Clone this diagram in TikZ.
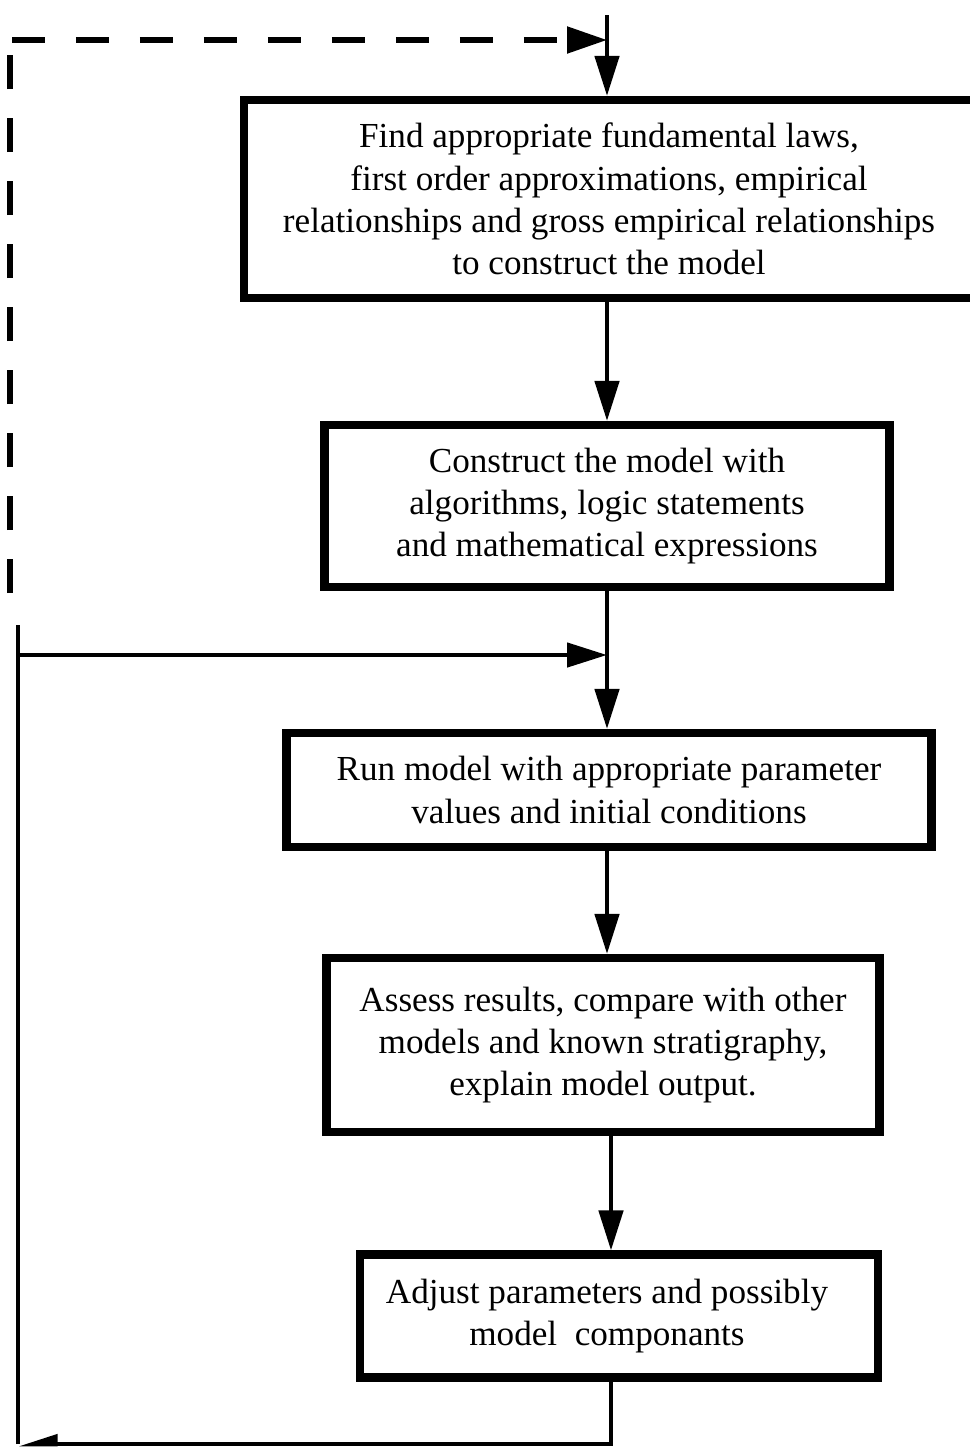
\documentclass[tikz,border=0pt]{standalone}
\usepackage{fontspec}
\setmainfont{Liberation Serif}
\usetikzlibrary{arrows.meta}

\tikzset{
  stepbox/.style={draw, line width=2.3pt, align=center, inner sep=0pt,
    font=\fontsize{10}{12}\selectfont},
  link/.style={line width=1.3pt},
  flow/.style={link, -{Triangle[length=4mm,width=2.4mm]}},
  dashline/.style={line width=1.5pt, dash pattern=on 3.3mm off 3.1mm},
  loopback/.style={dashline, -{Triangle[length=4mm,width=2.6mm]}},
}

\begin{document}
\begin{tikzpicture}[x=0.1mm,y=-0.1mm]
\useasboundingbox (0,0) rectangle (970,1450);

% the five steps
\node[stepbox, minimum width=73mm, minimum height=19.8mm] (laws) at (609,199)
  {Find appropriate fundamental laws,\\ first order approximations, empirical\\
   relationships and gross empirical relationships\\ to construct the model};
\node[stepbox, minimum width=56.5mm, minimum height=16.2mm] (build) at (607,506)
  {Construct the model with\\ algorithms, logic statements\\ and mathematical expressions};
\node[stepbox, minimum width=64.5mm, minimum height=11.4mm] (run) at (609,790)
  {Run model with appropriate parameter\\ values and initial conditions};
\node[stepbox, minimum width=55.3mm, minimum height=17.4mm] (assess) at (603,1045)
  {Assess results, compare with other\\ models and known stratigraphy,\\ explain model output.};
\node[stepbox, minimum width=51.8mm, minimum height=12.3mm] (adjust) at (619,1316)
  {\begin{tabular}{@{}c@{\hspace{2.4mm}}}Adjust parameters and possibly\\
   model\ \ componants\end{tabular}};

% main line
\coordinate (entry) at (607,15);
\coordinate (top) at (607,40);
\coordinate (rejoin) at (607,655);
\coordinate (low) at (611,1444);
\coordinate (back) at (18,1444);
\coordinate (stub) at (18,625);
\coordinate (dashfoot) at (10,593);
\coordinate (dashcorner) at (10,40);

\draw[flow] (entry) -- (laws.north -| entry);
\draw[flow] (laws.south -| top) -- (build.north -| top);
\draw[link] (build.south -| top) -- (rejoin);
\draw[flow] (rejoin) -- (run.north -| top);
\draw[flow] (run.south -| top) -- (assess.north -| top);
\draw[flow] (assess.south -| low) -- (adjust.north -| low);

% feedback loops
\draw[link, -{Triangle[harpoon,swap,length=3.2mm,width=1.9mm]}]
  (adjust.south -| low) -- (low) -- (back);
\draw[link] (back) -- (stub);
\draw[flow] (stub |- rejoin) -- (rejoin);
\draw[dashline, dash pattern=on 3.4mm off 2.9mm] (dashfoot) -- (dashcorner);
\draw[loopback] ([xshift=0.2mm]dashcorner) -- (top);
\end{tikzpicture}
\end{document}
